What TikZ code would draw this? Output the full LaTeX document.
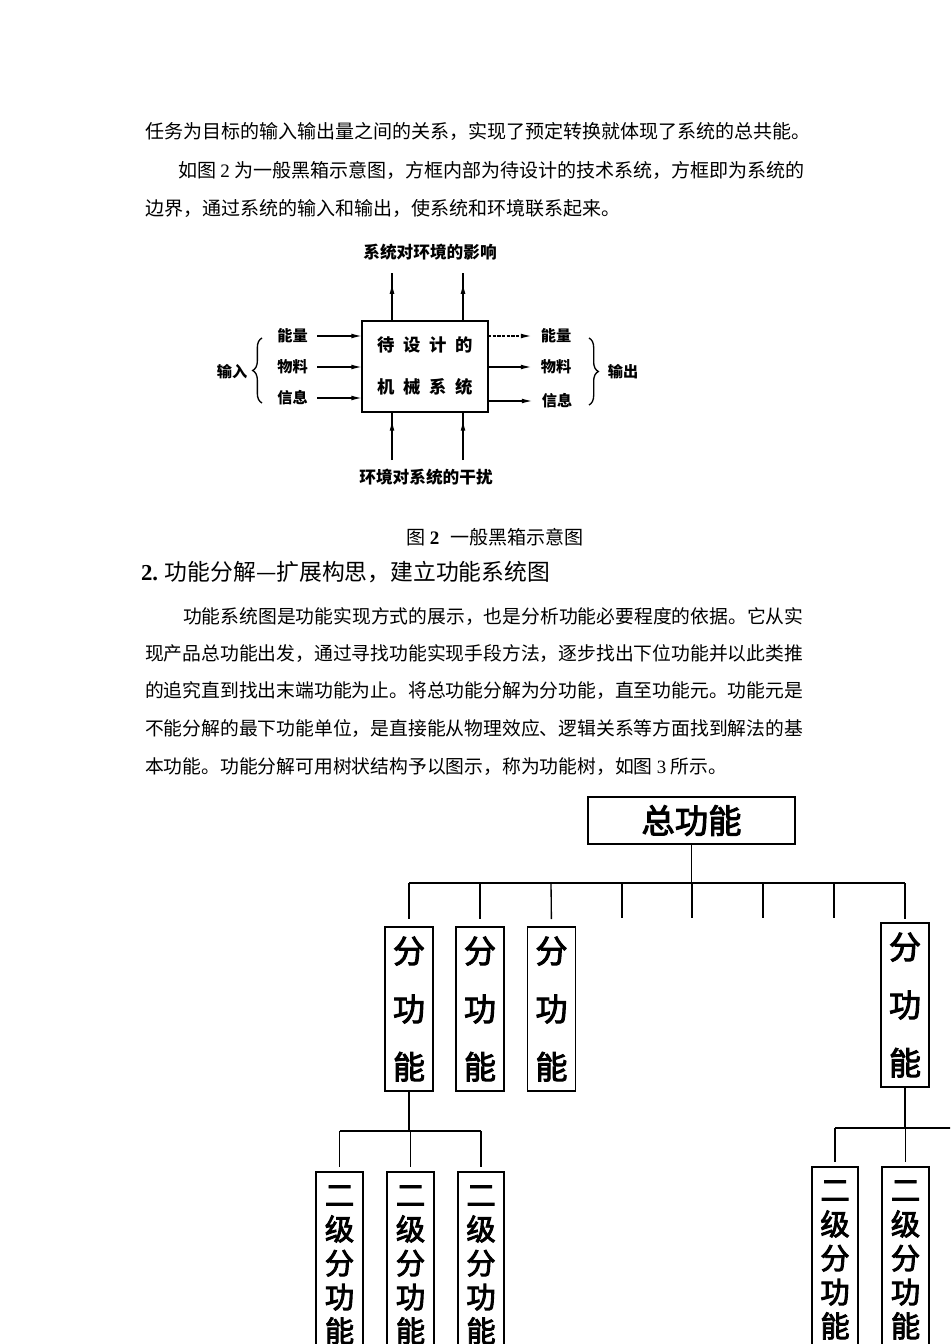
\documentclass[tikz,border=0pt]{standalone}
\usepackage{fontspec}
\setmainfont{Liberation Serif}
\newfontfamily\cjk{Noto Sans CJK SC}
\newfontfamily\cjkmid[FakeBold=3]{Noto Sans CJK SC}
\usetikzlibrary{arrows.meta,decorations.pathreplacing,decorations.markings}
\begin{document}
\begin{tikzpicture}[x=0.75pt, y=-0.75pt, inner sep=0pt, outer sep=0pt, line join=miter,
	body/.style={anchor=west, font=\cjk\fontsize{14.27}{17}\selectfont},
	lower/.style={anchor=west, font=\cjk\fontsize{14.1}{17}\selectfont},
	tag/.style={font=\cjk\bfseries\fontsize{11.4}{14}\selectfont},
	flow/.style={line width=1pt, -{Latex[length=8pt,width=3.6pt]}},
	midflow/.style={line width=1pt, postaction={decorate},
		decoration={markings, mark=at position #1 with {\arrow{Latex[length=8pt,width=3.6pt]}}}},
	fbox/.style={draw, line width=1.4pt, minimum width=36pt, minimum height=123pt, align=center,
		font=\cjkmid\fontsize{24}{43.5}\selectfont},
	sbox/.style={draw, line width=1.4pt, minimum width=35pt, minimum height=139.5pt, align=center,
		font=\cjkmid\fontsize{22}{25.5}\selectfont},
	tree/.style={line width=1pt}]

	\useasboundingbox (0,0) rectangle (950,1344);
	\fill[white] (0,0) rectangle (950,1344);
	\clip (0,0) rectangle (950,1344);

	% Đoạn văn trên
	\node[body] (p1) at (145,131) {任务为目标的输入输出量之间的关系，实现了预定转换就体现了系统的总共能。};
	\node[body] (p2) at (178,170) {如图 {\rmfamily 2} 为一般黑箱示意图，方框内部为待设计的技术系统，方框即为系统的};
	\node[body] (p3) at (145,208) {边界，通过系统的输入和输出，使系统和环境联系起来。};

	% Hình 2: hộp đen
	\node[draw, line width=1.3pt, minimum width=94.5pt, minimum height=68pt, align=center,
		font=\cjk\bfseries\fontsize{13}{31.5}\selectfont] (sys) at (425,366.5)
		{待\hspace{6.4pt}设\hspace{6.4pt}计\hspace{6.4pt}的\\机\hspace{6.4pt}械\hspace{6.4pt}系\hspace{6.4pt}统};
	\node[tag, font=\cjk\bfseries\fontsize{12.5}{15}\selectfont] (effect) at (430,252) {系统对环境的影响};
	\node[tag, font=\cjk\bfseries\fontsize{12.5}{15}\selectfont] (disturb) at (426,477) {环境对系统的干扰};
	\coordinate (up1) at (392,273);
	\coordinate (up2) at (463,273);
	\coordinate (lo1) at (392,460);
	\coordinate (lo2) at (463,460);
	\draw[midflow=0.79] (sys.north -| up1) -- (up1);
	\draw[midflow=0.79] (sys.north -| up2) -- (up2);
	\draw[midflow=0.83] (lo1) -- (lo1 |- sys.south);
	\draw[midflow=0.83] (lo2) -- (lo2 |- sys.south);

	\node[tag] (in1) at (292.5,336) {能量};
	\node[tag] (in2) at (292.5,367) {物料};
	\node[tag] (in3) at (292.5,398) {信息};
	\draw[flow, shorten <=7pt] (in1.east) -- (in1.east -| sys.west);
	\draw[flow, shorten <=7pt] (in2.east) -- (in2.east -| sys.west);
	\draw[flow, shorten <=7pt] (in3.east) -- (in3.east -| sys.west);
	\node[tag] (out1) at (556,336) {能量};
	\node[tag] (out2) at (556,367) {物料};
	\node[tag] (out3) at (557,401) {信息};
	\draw[flow, dash pattern=on 2.5pt off 1pt, shorten >=7pt] (out1.west -| sys.east) -- (out1.west);
	\draw[flow, shorten >=7pt] (out2.west -| sys.east) -- (out2.west);
	\draw[flow, shorten >=7pt] (out3.west -| sys.east) -- (out3.west);

	\draw[line width=1pt, decorate, decoration={brace, amplitude=7pt}] (262,403) -- (262,338);
	\draw[line width=1pt, decorate, decoration={brace, amplitude=7pt}] (589,338) -- (589,405);
	\node[tag] (input) at (232,372) {输入};
	\node[tag] (output) at (623,372) {输出};

	\node[font=\cjk\fontsize{14.3}{17}\selectfont] (cap2) at (495,537) {图 {\rmfamily\bfseries 2}\hspace{8pt}一般黑箱示意图};

	% Tiêu đề và đoạn văn dưới
	\node[anchor=west, font=\cjk\fontsize{17.1}{20}\selectfont] (head) at (141,572) {{\rmfamily\bfseries 2.} 功能分解—扩展构思，建立功能系统图};
	\node[lower] (q1) at (183,617) {功能系统图是功能实现方式的展示，也是分析功能必要程度的依据。它从实};
	\node[lower] (q2) at (145,654) {现产品总功能出发，通过寻找功能实现手段方法，逐步找出下位功能并以此类推};
	\node[lower] (q3) at (145,691) {的追究直到找出末端功能为止。将总功能分解为分功能，直至功能元。功能元是};
	\node[lower] (q4) at (145,729) {不能分解的最下功能单位，是直接能从物理效应、逻辑关系等方面找到解法的基};
	\node[lower] (q5) at (145,767) {本功能。功能分解可用树状结构予以图示，称为功能树，如图 {\rmfamily 3} 所示。};

	% Hình 3: cây chức năng
	\node[draw, line width=1.4pt, minimum width=155pt, minimum height=35pt,
		font=\cjkmid\fontsize{25}{30}\selectfont] (total) at (691.5,820.5) {总功能};
	\foreach \x [count=\i] in {409,480,551,622,692,763,834,905}
		\coordinate (d\i) at (\x,883);
	\foreach \x [count=\i from 4] in {622,692,763,834}
		\coordinate (e\i) at (\x,918);
	\draw[tree] (d1) -- (d8);
	\draw[tree] (total.south) -- (total.south |- d1);
	\foreach \i in {4,...,7}
		\draw[tree] (d\i) -- (e\i);

	\node[fbox] (f1) at (409,1009) {分\\功\\能};
	\node[fbox] (f2) at (480,1009) {分\\功\\能};
	\node[fbox] (f3) at (551.5,1009) {分\\功\\能};
	\node[fbox] (f8) at (905,1005) {分\\功\\能};
	\draw[tree, shorten >=6pt] (d1) -- (f1.north);
	\draw[tree, shorten >=6pt] (d2) -- (f2.north);
	\draw[tree, shorten >=6pt] (d3) -- (f3.north);
	\draw[tree, shorten >=3pt] (d8) -- (f8.north);

	% Cấp hai bên trái
	\node[sbox] (s1) at (339.5,1265) {二\\级\\分\\功\\能};
	\node[sbox] (s2) at (410.5,1265) {二\\级\\分\\功\\能};
	\node[sbox] (s3) at (481,1265) {二\\级\\分\\功\\能};
	\coordinate (b1) at (409,1131);
	\draw[tree] (f1.south) -- (f1.south |- b1);
	\draw[tree] (s1.north |- b1) -- (s3.north |- b1);
	\draw[tree, shorten >=4pt] (s1.north |- b1) -- (s1.north);
	\draw[tree, shorten >=4pt] (s2.north |- b1) -- (s2.north);
	\draw[tree, shorten >=4pt] (s3.north |- b1) -- (s3.north);

	% Cấp hai bên phải
	\node[sbox] (r1) at (835,1260) {二\\级\\分\\功\\能};
	\node[sbox] (r2) at (905.5,1260) {二\\级\\分\\功\\能};
	\coordinate (b2) at (960,1128);
	\draw[tree] (f8.south) -- (f8.south |- b2);
	\draw[tree] (r1.north |- b2) -- (b2);
	\draw[tree, shorten >=4pt] (r1.north |- b2) -- (r1.north);
	\draw[tree, shorten >=4pt] (r2.north |- b2) -- (r2.north);
\end{tikzpicture}
\end{document}
